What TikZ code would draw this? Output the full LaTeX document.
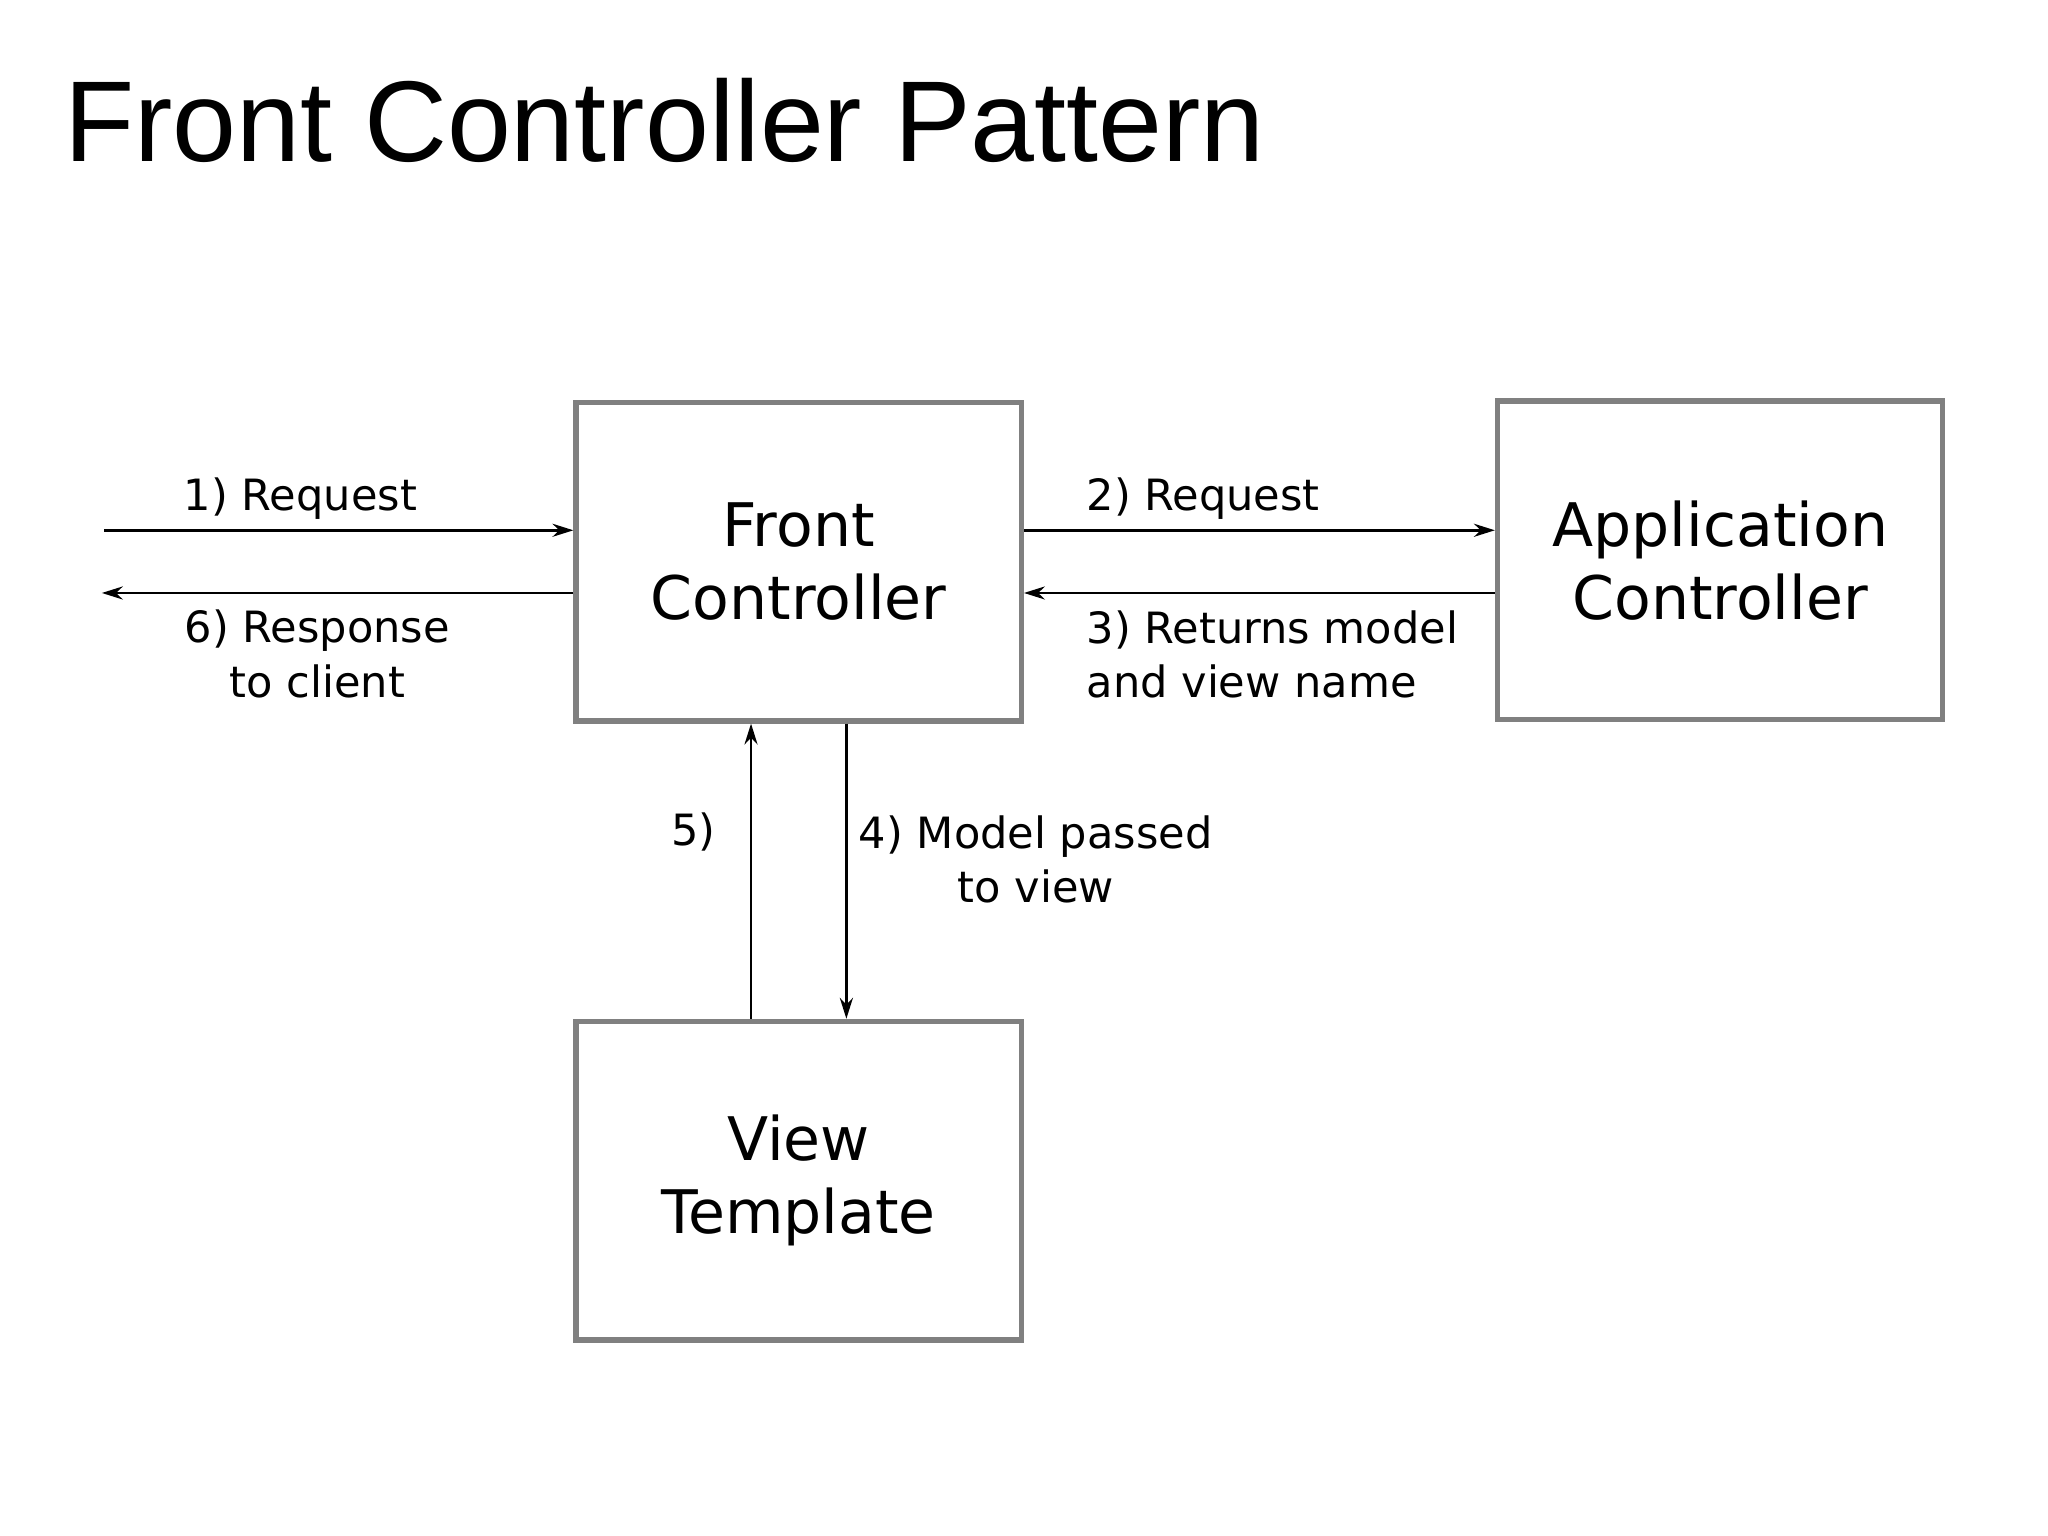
\documentclass[tikz,border=0pt]{standalone}
\usepackage{fontspec}
\setmainfont{DejaVu Sans}
\newfontfamily\titlefont{Liberation Sans}
\usetikzlibrary{arrows.meta}
\tikzset{every picture/.style={line width=1pt}}
\tikzset{
  block/.style={draw=black!50, line width=2pt, minimum width=170.5pt, minimum height=122pt, align=center, font=\fontsize{23}{28}\selectfont, inner sep=0pt},
  flow/.style={-{Stealth[length=8pt,width=5pt]}, line width=1pt},
  lbl/.style={font=\fontsize{16.5}{21}\selectfont, inner sep=0pt}
}
\begin{document}
\begin{tikzpicture}[x=0.5pt,y=0.5pt,yscale=-1]
	\useasboundingbox (0,0) rectangle (1568,1176);
	
	% Title
	\node (title) [anchor=base west, inner sep=0pt, font=\titlefont\fontsize{44}{50}\selectfont] at (48,124) {Front Controller Pattern};
	
	% Blocks
	\node (fc) [block] at (611.5,430) {Front\\Controller};
	\node (ac) [block] at (1317,429) {Application\\Controller};
	\node (vt) [block] at (611.5,904) {View\\Template};
	
	% Free ends
	\coordinate (cin) at (80,406);
	\coordinate (cout) at (78,454);
	
	% Connections
	\draw [flow] (cin) -- (fc.west |- cin);
	\draw [flow] (fc.west |- cout) -- (cout);
	\draw [flow] (fc.east |- cin) -- (ac.west |- cin);
	\draw [flow] (ac.west |- cout) -- (fc.east |- cout);
	\draw [flow] (vt.north -| 575,0) -- (fc.south -| 575,0);
	\draw [flow] (fc.south -| 648,0) -- (vt.north -| 648,0);
	
	% Labels
	\node (l1) [lbl] at (230,382) {1) Request};
	\node (l6) [lbl, align=center] at (243,501) {6) Response\\to client};
	\node (l2) [lbl, anchor=west] at (831,382) {2) Request};
	\node (l3) [lbl, anchor=west, align=left] at (831,501) {3) Returns model\\and view name};
	\node (l5) [lbl] at (531,637) {5)};
	\node (l4) [lbl, align=center] at (793,658) {4) Model passed\\to view};
\end{tikzpicture}
\end{document}
